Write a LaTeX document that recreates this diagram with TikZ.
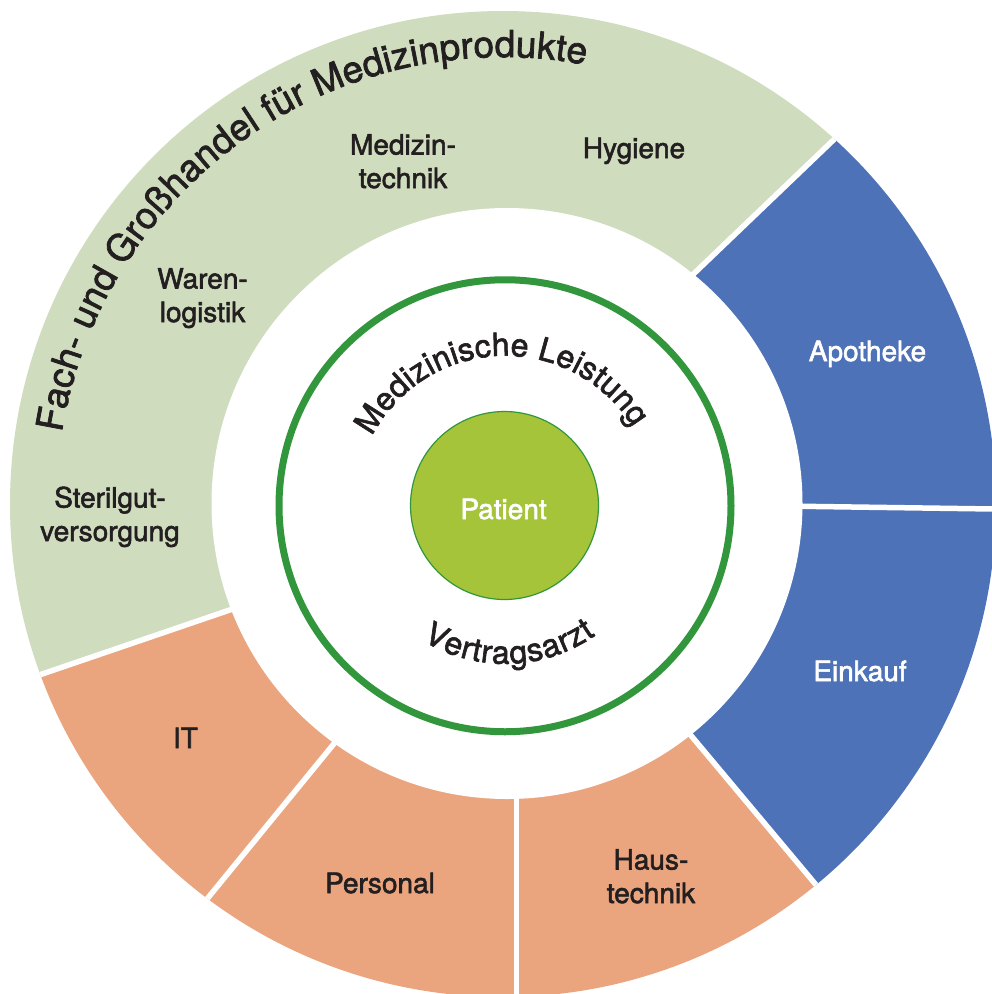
\documentclass[tikz,border=0pt]{standalone}
\usepackage{fontspec}
\setmainfont{TeX Gyre Heros}[FakeBold=2]
\usetikzlibrary{decorations.text,calc}
\definecolor{segGreen}{RGB}{207,220,190}
\definecolor{segBlue}{RGB}{78,114,183}
\definecolor{segOrange}{RGB}{234,165,127}
\definecolor{ringGreen}{RGB}{50,150,60}
\definecolor{patGreen}{RGB}{166,196,58}
\definecolor{txt}{RGB}{35,31,32}
\newcommand\segfont{\fontsize{28}{33.5}\selectfont}
\newcommand\titlefont{\fontsize{37}{40}\selectfont}
\newcommand\innerfont{\fontsize{32}{36}\selectfont}
\begin{document}
\begin{tikzpicture}[x=1pt,y=1pt,
  seglabel/.style={font=\segfont, text=txt, align=center, anchor=base, inner sep=0pt},
  seglabelw/.style={seglabel, text=white},
  gapline/.style={white, line width=5.5pt}]
\useasboundingbox (0,0) rectangle (992,-994);
\coordinate (co) at (503,-504);
\coordinate (ci) at (507,-503.5);
\coordinate (cr) at (505,-505.75);
\coordinate (g1a) at (651.7,-314);  \coordinate (g1b) at (905.5,-71);
\coordinate (g2a) at (760,-505.7);  \coordinate (g2b) at (1100,-510.5);
\coordinate (g3a) at (654,-691.3);  \coordinate (g3b) at (880,-961.3);
\coordinate (g4a) at (516.7,-760);  \coordinate (g4b) at (516.7,-1100);
\coordinate (g5a) at (371.7,-697.5); \coordinate (g5b) at (144.4,-975.6);
\coordinate (g6a) at (288.3,-590);  \coordinate (g6b) at (-53.7,-706.7);
\begin{scope}
  \clip (co) circle[radius=493];
  \fill[segGreen] (ci) -- (g6a) -- (g6b) -- (-60,60) -- (905.5,60) -- (g1b) -- (g1a) -- cycle;
  \fill[segBlue] (ci) -- (g1a) -- (g1b) -- (1100,-71) -- (g2b) -- (g2a) -- cycle;
  \fill[segBlue] (ci) -- (g2a) -- (g2b) -- (1100,-961.3) -- (g3b) -- (g3a) -- cycle;
  \fill[segOrange] (ci) -- (g3a) -- (g3b) -- (880,-1100) -- (g4b) -- (g4a) -- cycle;
  \fill[segOrange] (ci) -- (g4a) -- (g4b) -- (144.4,-1100) -- (g5b) -- (g5a) -- cycle;
  \fill[segOrange] (ci) -- (g5a) -- (g5b) -- (-60,-975.6) -- (-60,-706.7) -- (g6b) -- (g6a) -- cycle;
  \draw[gapline] (g1a) -- (g1b);
  \draw[gapline] (g2a) -- (g2b);
  \draw[gapline] (g3a) -- (g3b);
  \draw[gapline] (g4a) -- (g4b);
  \draw[gapline] (g5a) -- (g5b);
  \draw[gapline] (g6a) -- (g6b);
\end{scope}
\fill[white] (ci) circle[radius=295.5];
\draw[ringGreen, line width=7pt] (cr) circle[radius=226];
\fill[patGreen, draw=ringGreen, line width=1.2pt] (504.5,-505.5) circle[radius=94];

% curved texts
\path[decorate, decoration={text along path, text align={fit to path},
  text={|\titlefont\color{txt}|Fach- und Großhandel für Medizinprodukte}}]
  ($(co)+(170.8:447)$) arc[start angle=170.8, end angle=79.4, radius=447];
\path[decorate, decoration={text along path, text align={fit to path},
  text={|\innerfont\color{txt}|Medizinische Leistung}}]
  ($(cr)+(152.4:150)$) arc[start angle=152.4, end angle=31.4, radius=150];
\path[decorate, decoration={text along path, text align={fit to path},
  text={|\innerfont\color{txt}|Vertragsarzt}}]
  ($(cr)+(238.5:158)$) arc[start angle=238.5, end angle=305, radius=158];

% labels (anchor base = baseline of the last line)
\node[seglabel] (medtech) at (403,-188) {Medizin-\\technik};
\node[seglabel] (hyg) at (634,-158) {Hygiene};
\node[seglabel] (waren) at (202.5,-322) {Waren-\\logistik};
\node[seglabel] (steril) at (110,-541) {Sterilgut-\\versorgung};
\node[seglabelw] (apo) at (867.5,-361) {Apotheke};
\node[seglabelw] (eink) at (860,-681) {Einkauf};
\node[seglabel] (haus) at (651,-903) {Haus-\\technik};
\node[seglabel] (pers) at (380,-893) {Personal};
\node[seglabel] (it) at (185.5,-748) {IT};
\node[seglabelw] (patient) at (503.5,-519) {Patient};
\end{tikzpicture}
\end{document}
